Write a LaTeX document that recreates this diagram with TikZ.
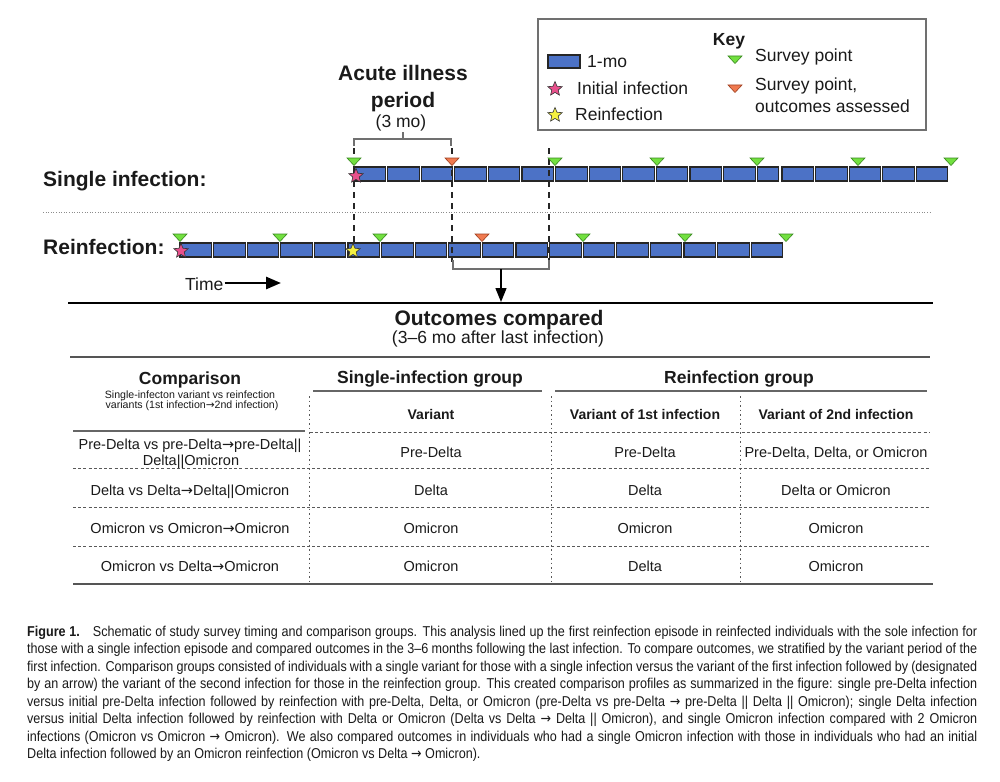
\documentclass[tikz,border=0pt]{standalone}
\usepackage{fontspec}
\setmainfont{Liberation Sans}
\newfontfamily\capfont[FakeStretch=0.88]{Liberation Sans}
\newfontfamily\arrfont{DejaVu Sans}
\newfontfamily\arrcapfont[FakeStretch=0.88]{DejaVu Sans}
\newcommand\rarr{{\arrfont →}}
\newcommand\carr{{\arrcapfont →}}
\usetikzlibrary{shapes.geometric,arrows.meta}
\definecolor{barblue}{HTML}{4C72C6}
\definecolor{trigreen}{HTML}{72E040}
\definecolor{trigreenedge}{HTML}{3A8A20}
\definecolor{triorange}{HTML}{F07A50}
\definecolor{triorangeedge}{HTML}{A04020}
\definecolor{starpink}{HTML}{E8508C}
\definecolor{staryellow}{HTML}{F4F040}
\definecolor{keygray}{HTML}{707070}
\definecolor{txt}{HTML}{1A1A1A}
\definecolor{tabline}{HTML}{555555}
\newcommand\fKey{\fontsize{17.5}{21}\selectfont}
\newcommand\fBig{\fontsize{21}{25}\selectfont\bfseries}
\newcommand\fRow{\fontsize{14.5}{17}\selectfont}
\newcommand\fHead{\fontsize{14}{17}\selectfont\bfseries}
\newcommand\fSub{\fontsize{10.6}{12}\selectfont}
\newcommand\fCap{\capfont\fontsize{14.3}{17.5}\selectfont}
\tikzset{
  monthbox/.style={draw=black!85, fill=barblue, line width=1.1pt},
  lbl/.style={inner sep=0pt, text=txt},
  starbase/.style={star, star points=5, star point ratio=2.2, minimum size=15pt, inner sep=0pt, draw=black!80, line width=0.6pt},
  pinkstar/.style={starbase, fill=starpink},
  yelstar/.style={starbase, fill=staryellow},
  greentri/.pic={\draw[draw=trigreenedge, fill=trigreen, line width=0.6pt] (-7,0) -- (7,0) -- (0,7.5) -- cycle;},
  orangetri/.pic={\draw[draw=triorangeedge, fill=triorange, line width=0.6pt] (-7,0) -- (7,0) -- (0,7.5) -- cycle;},
  guide/.style={draw=black!85, line width=1.3pt, dash pattern=on 6pt off 5pt},
  brk/.style={draw=keygray, line width=1.3pt},
  tabsolid/.style={draw=tabline, line width=1.4pt},
  tabsub/.style={draw=black!60, line width=1.1pt},
  tabdash/.style={draw=black!65, line width=0.9pt, dash pattern=on 3pt off 2.2pt},
  tabdot/.style={draw=black!65, line width=0.9pt, dash pattern=on 1.5pt off 3pt},
  capl/.style={inner sep=0pt, anchor=base west, text=txt},
}
\begin{document}
\begin{tikzpicture}[x=1pt,y=-1pt]
\useasboundingbox (0,0) rectangle (1000,781);
\fill[white] (0,0) rectangle (1000,781);

% ---------------- Key ----------------
\draw[keygray, line width=1.5pt] (538,19) rectangle (926,130);
\draw[monthbox] (548,55) rectangle (580,68);
\node[lbl, anchor=base west] (k1mo) at (587,68) {\fKey 1-mo};
\node[pinkstar] (kstarA) at (555,89) {};
\node[lbl, anchor=base west] (kinit) at (577,95) {\fKey Initial infection};
\node[yelstar] (kstarB) at (555,115) {};
\node[lbl, anchor=base west] (kre) at (575,121) {\fKey Reinfection};
\node[lbl, anchor=base] (kkey) at (729,46) {\fKey\bfseries Key};
\pic at (735,56) {greentri};
\node[lbl, anchor=base west] (ksp) at (755,62) {\fKey Survey point};
\pic at (735,85) {orangetri};
\node[lbl, anchor=base west] (kspa) at (755,91) {\fKey Survey point,};
\node[lbl, anchor=base west] (kspb) at (755,113) {\fKey outcomes assessed};

% ---------------- Acute illness period ----------------
\node[lbl, anchor=base] (acA) at (403,81) {\fBig Acute illness};
\node[lbl, anchor=base] (acB) at (403,107) {\fBig period};
\node[lbl, anchor=base] (acC) at (401,128) {\fKey (3 mo)};
\coordinate (abL) at (354,146);
\coordinate (abR) at (451,146);
\coordinate (abM) at (403,139);
\draw[brk] (abL) -- (354,139) -- (451,139) -- (abR);
\draw[brk] (abM) -- (403,132);

% ---------------- Row labels ----------------
\node[lbl, anchor=base west] (lsingle) at (43,186) {\fBig Single infection:};
\node[lbl, anchor=base west] (lreinf) at (43,254) {\fBig Reinfection:};
\draw[draw=black!45, line width=0.8pt, dash pattern=on 1pt off 1.6pt] (43,212) -- (930,212);

% ---------------- Single infection bar ----------------
\foreach \k in {0,...,11} \draw[monthbox] ({354+\k*33.6},167) rectangle ++(31.5,14);
\draw[monthbox] (757.2,167) rectangle ++(21,14);
\foreach \k in {0,...,4} \draw[monthbox] ({782+\k*33.6},167) rectangle ++(31.5,14);

% ---------------- Reinfection bar ----------------
\foreach \k in {0,...,17} \draw[monthbox] ({180+\k*33.6},243) rectangle ++(31.5,14);

% ---------------- Guides ----------------
\coordinate (gA1) at (354,148); \coordinate (gA2) at (354,245);
\coordinate (gB1) at (452,148); \coordinate (gB2) at (452,262);
\coordinate (gC1) at (549,148); \coordinate (gC2) at (549,262);
\draw[guide] (gA1) -- (gA2);
\draw[guide] (gB1) -- (gB2);
\draw[guide] (gC1) -- (gC2);

% ---------------- Survey points ----------------
\foreach \x in {354,555,657,757,858,951} \pic at (\x,158) {greentri};
\pic at (452,158) {orangetri};
\foreach \x in {180,280,380,583,685,786} \pic at (\x,234) {greentri};
\pic at (482,234) {orangetri};

% ---------------- Infections ----------------
\node[pinkstar] (sA) at (356,176) {};
\node[pinkstar] (sB) at (181,251) {};
\node[yelstar] (sC) at (353,251) {};

% ---------------- Outcome bracket and arrow ----------------
\coordinate (obL) at (453,260);
\coordinate (obR) at (549,260);
\coordinate (obM) at (501,269);
\coordinate (outl) at (501,302);
\draw[brk] (obL) -- (453,269) -- (549,269) -- (obR);
\draw[black, line width=1.4pt, -{Triangle[length=14pt,width=11pt]}] (obM) -- (outl);

% Time
\node[lbl, anchor=base west] (time) at (185,290) {\fKey Time};
\coordinate (timeend) at (281,283);
\draw[black, line width=2.7pt, -{Triangle[length=15pt,width=12pt]}] (time.east |- timeend) ++(1,0) -- (timeend);

\draw[black, line width=2.4pt] (68,303) -- (933,303);

\node[lbl, anchor=base] (outA) at (499,325) {\fBig Outcomes compared};
\node[lbl, anchor=base] (outB) at (498,343) {\fKey (3–6 mo after last infection)};

% ---------------- Table ----------------
\draw[tabsolid] (70,357) -- (930,357);
\node[lbl, anchor=base] (hcomp) at (190,384) {\fKey\bfseries Comparison};
\node[lbl, anchor=base] (hsubA) at (190,398) {\fSub Single-infecton variant vs reinfection};
\node[lbl, anchor=base] (hsubB) at (192,408) {\fSub variants (1st infection\rarr 2nd infection)};
\node[lbl, anchor=base] (hsg) at (430,383) {\fKey\bfseries Single-infection group};
\node[lbl, anchor=base] (hrg) at (739,383) {\fKey\bfseries Reinfection group};
\draw[tabsub] (313,391) -- (542,391);
\draw[tabsub] (555,391) -- (927,391);
\node[lbl, anchor=base] (hv) at (431,419) {\fHead Variant};
\node[lbl, anchor=base] (hvA) at (645,419) {\fHead Variant of 1st infection};
\node[lbl, anchor=base] (hvB) at (836,419) {\fHead Variant of 2nd infection};
\draw[tabsub] (73,431) -- (305,431);
\draw[tabdash] (310,432) -- (930,432);
\foreach \y in {468,507,546} \draw[tabdash] (73,\y) -- (930,\y);
\draw[tabsolid] (73,584) -- (933,584);
\foreach \x in {309,551,740} \draw[tabdot] (\x,396) -- (\x,584);

\node[lbl, anchor=base] (rAa) at (190,449) {\fRow Pre-Delta vs pre-Delta\rarr pre-Delta||};
\node[lbl, anchor=base] (rAb) at (191,465) {\fRow Delta||Omicron};
\node[lbl, anchor=base] (rAs) at (431,457) {\fRow Pre-Delta};
\node[lbl, anchor=base] (rAf) at (645,457) {\fRow Pre-Delta};
\node[lbl, anchor=base] (rAg) at (836,457) {\fRow Pre-Delta, Delta, or Omicron};

\node[lbl, anchor=base] (rBa) at (190,495) {\fRow Delta vs Delta\rarr Delta||Omicron};
\node[lbl, anchor=base] (rBs) at (431,495) {\fRow Delta};
\node[lbl, anchor=base] (rBf) at (645,495) {\fRow Delta};
\node[lbl, anchor=base] (rBg) at (836,495) {\fRow Delta or Omicron};

\node[lbl, anchor=base] (rCa) at (190,533) {\fRow Omicron vs Omicron\rarr Omicron};
\node[lbl, anchor=base] (rCs) at (431,533) {\fRow Omicron};
\node[lbl, anchor=base] (rCf) at (645,533) {\fRow Omicron};
\node[lbl, anchor=base] (rCg) at (836,533) {\fRow Omicron};

\node[lbl, anchor=base] (rDa) at (190,571) {\fRow Omicron vs Delta\rarr Omicron};
\node[lbl, anchor=base] (rDs) at (431,571) {\fRow Omicron};
\node[lbl, anchor=base] (rDf) at (645,571) {\fRow Delta};
\node[lbl, anchor=base] (rDg) at (836,571) {\fRow Omicron};

% ---------------- Caption ----------------
\node[capl] (capA) at (27,636) {\fCap\makebox[950pt][s]{\textbf{Figure 1.}\hspace{13pt}Schematic of study survey timing and comparison groups. This analysis lined up the first reinfection episode in reinfected individuals with the sole infection for}};
\node[capl] (capB) at (27,653.5) {\fCap\makebox[950pt][s]{those with a single infection episode and compared outcomes in the 3–6 months following the last infection. To compare outcomes, we stratified by the variant period of the}};
\node[capl] (capC) at (27,671) {\fCap\makebox[950pt][s]{first infection. Comparison groups consisted of individuals with a single variant for those with a single infection versus the variant of the first infection followed by (designated}};
\node[capl] (capD) at (27,688.5) {\fCap\makebox[950pt][s]{by an arrow) the variant of the second infection for those in the reinfection group. This created comparison profiles as summarized in the figure: single pre-Delta infection}};
\node[capl] (capE) at (27,706) {\fCap\makebox[950pt][s]{versus initial pre-Delta infection followed by reinfection with pre-Delta, Delta, or Omicron (pre-Delta vs pre-Delta \carr{} pre-Delta || Delta || Omicron); single Delta infection}};
\node[capl] (capF) at (27,723.5) {\fCap\makebox[950pt][s]{versus initial Delta infection followed by reinfection with Delta or Omicron (Delta vs Delta \carr{} Delta || Omicron), and single Omicron infection compared with 2 Omicron}};
\node[capl] (capG) at (27,741) {\fCap\makebox[950pt][s]{infections (Omicron vs Omicron \carr{} Omicron). We also compared outcomes in individuals who had a single Omicron infection with those in individuals who had an initial}};
\node[capl] (capH) at (27,758.5) {\fCap Delta infection followed by an Omicron reinfection (Omicron vs Delta \carr{} Omicron).};
\end{tikzpicture}
\end{document}
